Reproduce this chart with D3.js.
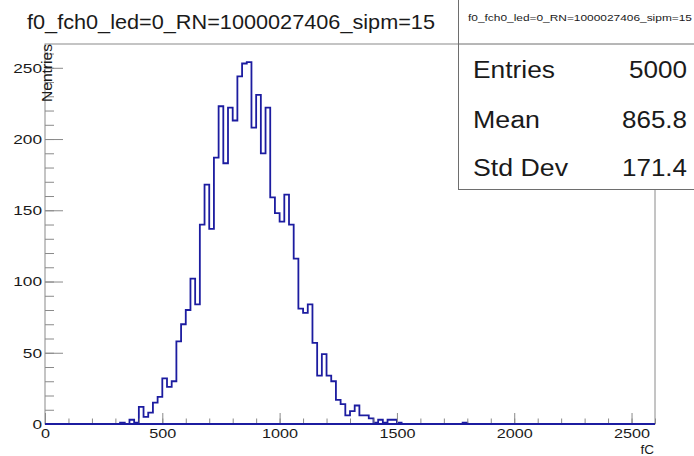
<!DOCTYPE html>
<html>
<head>
<meta charset="utf-8">
<script src="https://cdn.jsdelivr.net/npm/d3@7"></script>
<style>
  body { margin: 0; background: #fff; }
  text { font-family: "Liberation Sans", Arial, sans-serif; fill: #1a1a1a; }
</style>
</head>
<body>
<div id="chart"></div>
<script>
// histogram title and stats
const histTitle = "f0_fch0_led=0_RN=1000027406_sipm=15";
const statNames = ["Entries", "Mean", "Std Dev"];
const statValues = ["5000", "865.8", "171.4"];

// binning: 130 bins of 20 fC from 0 to 2600
const xRange = [0, 2600];
const binWidth = 20;
// contents of the bins starting at 320 fC
const firstBinLow = 320;
const binCounts = [1, 0, 3, 1, 12, 5, 8, 15, 19, 32, 26, 30, 58, 70, 80, 102, 84, 140, 168, 137,
  187, 223, 183, 222, 213, 244, 253, 254, 208, 231, 190, 222, 159, 148, 142, 161, 140, 116, 81, 78,
  84, 57, 34, 49, 34, 30, 17, 14, 6, 9, 13, 6, 6, 4, 1, 3, 1, 3, 3, 1];
// lone entries far in the tail
const tailBinLows = [1780];
const tailBinCounts = [1];

const yMajorTicks = [0, 50, 100, 150, 200, 250];
const xMajorTicks = [0, 500, 1000, 1500, 2000, 2500];

const W = 694, H = 456;
const frame = {left: 45, right: 655, top: 44, bottom: 424};

const svg = d3.select("#chart").append("svg")
  .attr("width", W).attr("height", H);

svg.append("rect").attr("width", W).attr("height", H).attr("fill", "#fff");

// full list of bins
const nBins = (xRange[1] - xRange[0]) / binWidth;
const bins = d3.range(nBins).map(i => ({low: xRange[0] + i * binWidth, n: 0}));
binCounts.forEach((c, i) => { bins[(firstBinLow - xRange[0]) / binWidth + i].n = c; });
tailBinLows.forEach((lo, i) => { bins[(lo - xRange[0]) / binWidth].n = tailBinCounts[i]; });

const yMax = 1.05 * d3.max(bins, d => d.n);

const x = d3.scaleLinear().domain(xRange).range([frame.left, frame.right]);
const y = d3.scaleLinear().domain([0, yMax]).range([frame.bottom, frame.top]);

// frame
svg.append("rect")
  .attr("x", frame.left).attr("y", frame.top)
  .attr("width", frame.right - frame.left).attr("height", frame.bottom - frame.top)
  .attr("fill", "none").attr("stroke", "#8a8a8a").attr("stroke-width", 1);

// histogram outline
let pts = [[x(xRange[0]), y(0)]];
bins.forEach(b => {
  pts.push([x(b.low), y(b.n)]);
  pts.push([x(b.low + binWidth), y(b.n)]);
});
pts.push([x(xRange[1]), y(0)]);

svg.append("path")
  .attr("d", d3.line()(pts))
  .attr("fill", "none")
  .attr("stroke", "#1c1ca0")
  .attr("stroke-width", 1.8)
  .attr("stroke-linejoin", "miter");

// y axis: minor then major ticks (pointing inside)
const yMinor = svg.append("g").attr("transform", `translate(${frame.left},0)`)
  .call(d3.axisLeft(y).tickValues(d3.range(0, yMax, 10)).tickSizeInner(-9).tickSizeOuter(0).tickFormat(""));
const yMajor = svg.append("g").attr("transform", `translate(${frame.left},0)`)
  .call(d3.axisLeft(y).tickValues(yMajorTicks).tickSizeInner(-18).tickSizeOuter(0).tickPadding(3).tickFormat(d3.format("d")));

// x axis
const xMinor = svg.append("g").attr("transform", `translate(0,${frame.bottom})`)
  .call(d3.axisBottom(x).tickValues(d3.range(0, xRange[1] + 1, 100)).tickSizeInner(-5.5).tickSizeOuter(0).tickFormat(""));
const xMajor = svg.append("g").attr("transform", `translate(0,${frame.bottom})`)
  .call(d3.axisBottom(x).tickValues(xMajorTicks).tickSizeInner(-11).tickSizeOuter(0).tickPadding(4).tickFormat(d3.format("d")));

[yMinor, yMajor, xMinor, xMajor].forEach(g => {
  g.select(".domain").remove();
  g.selectAll(".tick line").attr("stroke", "#8a8a8a");
});

yMajor.selectAll("text")
  .style("font-size", "13.5px")
  .attr("textLength", d => String(d).length * 9.6)
  .attr("lengthAdjust", "spacingAndGlyphs");
xMajor.selectAll("text")
  .style("font-size", "13.5px")
  .attr("textLength", d => String(d).length * 9.0)
  .attr("lengthAdjust", "spacingAndGlyphs");

// the histogram baseline sits over the axis line
svg.append("line")
  .attr("x1", x(xRange[0])).attr("x2", x(xRange[1]))
  .attr("y1", y(0)).attr("y2", y(0))
  .attr("stroke", "#1c1ca0").attr("stroke-width", 1.8);

// axis titles
svg.append("text")
  .attr("transform", `translate(51.5,${frame.top}) rotate(-90)`)
  .attr("text-anchor", "end")
  .style("font-size", "14.5px")
  .attr("textLength", 58).attr("lengthAdjust", "spacingAndGlyphs")
  .text("Nentries");

svg.append("text")
  .attr("x", frame.right - 1).attr("y", 454)
  .attr("text-anchor", "end")
  .style("font-size", "13.5px")
  .text("fC");

// title
svg.append("text")
  .attr("x", 27).attr("y", 28.5)
  .style("font-size", "21px")
  .attr("textLength", 408).attr("lengthAdjust", "spacingAndGlyphs")
  .text(histTitle);

// stats box
const box = svg.append("g");
box.append("rect")
  .attr("x", 458.5).attr("y", -1)
  .attr("width", 250).attr("height", 190.5)
  .attr("fill", "#fff").attr("stroke", "#6e6e6e").attr("stroke-width", 1);
box.append("line")
  .attr("x1", 458.5).attr("x2", W).attr("y1", 44).attr("y2", 44)
  .attr("stroke", "#6e6e6e");
box.append("text")
  .attr("x", 468).attr("y", 20.5)
  .style("font-size", "9.5px")
  .attr("textLength", 224).attr("lengthAdjust", "spacingAndGlyphs")
  .text(histTitle);

const rowY = [78, 127.5, 176];
const nameLen = [82, 67, 95];
statNames.forEach((s, i) => {
  box.append("text")
    .attr("x", 473).attr("y", rowY[i])
    .style("font-size", "23px")
    .attr("textLength", nameLen[i]).attr("lengthAdjust", "spacingAndGlyphs")
    .text(s);
  box.append("text")
    .attr("x", 687).attr("y", rowY[i])
    .attr("text-anchor", "end")
    .style("font-size", "23px")
    .attr("textLength", statValues[i].length === 4 ? 58 : 65).attr("lengthAdjust", "spacingAndGlyphs")
    .text(statValues[i]);
});
</script>
</body>
</html>
